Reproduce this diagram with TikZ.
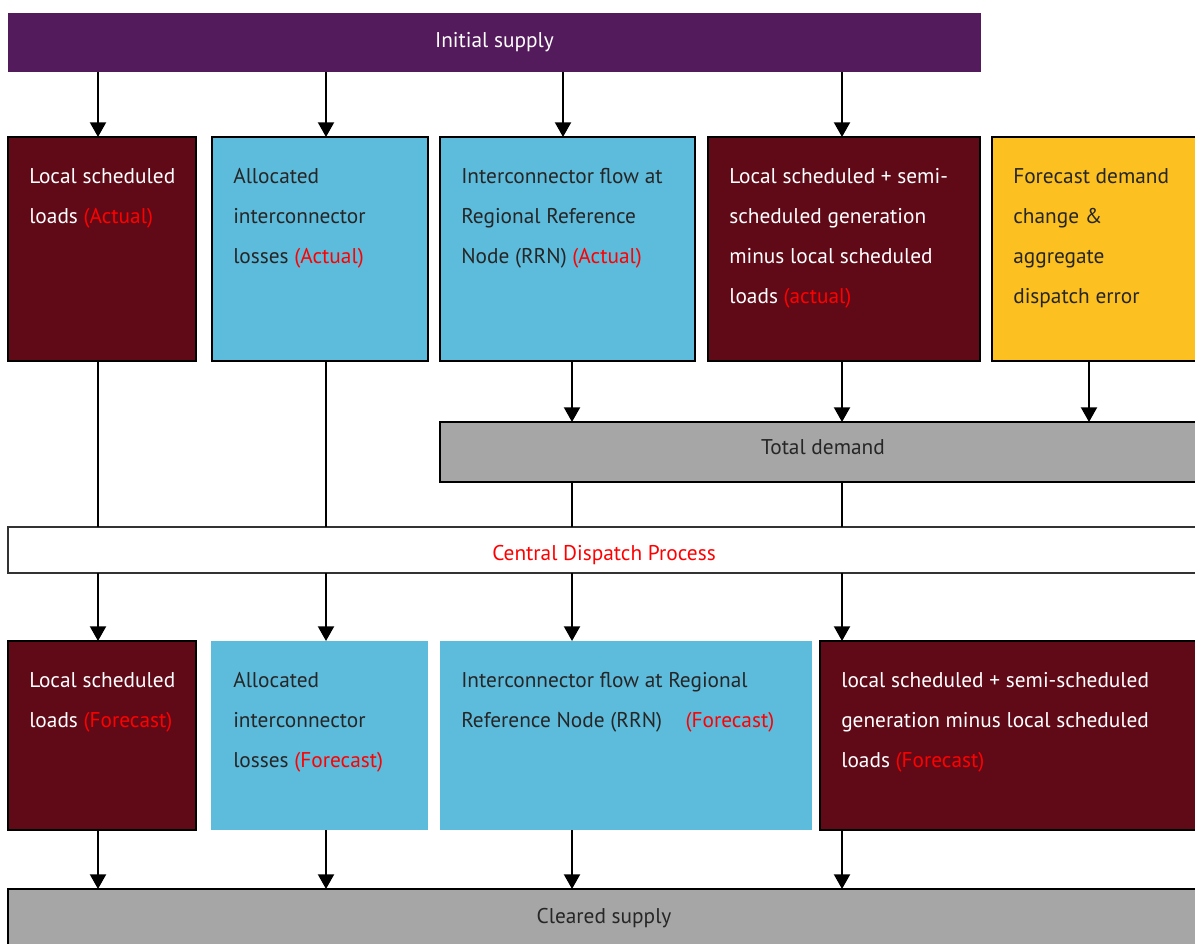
\documentclass[tikz,border=0pt]{standalone}
\usepackage{fontspec}
\setmainfont{PT Sans}
\usetikzlibrary{arrows.meta,positioning}
\definecolor{spurple}{RGB}{84,27,92}
\definecolor{sred}{RGB}{96,10,24}
\definecolor{sblue}{RGB}{93,187,220}
\definecolor{syellow}{RGB}{253,192,33}
\definecolor{sgray}{RGB}{166,166,166}
\definecolor{sdark}{RGB}{38,38,38}
\newcommand{\tagred}[1]{\textcolor{red}{#1}}

\begin{document}
\begin{tikzpicture}[
    x=0.75pt, y=-0.75pt,
    every node/.style={font=\fontsize{16}{30}\selectfont},
    box/.style 2 args={anchor=north west, inner sep=0pt, outer sep=0pt, line width=1.5pt,
                minimum width=#1*0.75pt, minimum height=#2*0.75pt},
    redbox/.style={draw=black, fill=sred},
    bluebox/.style={fill=sblue},
    txt/.style={anchor=north west, inner sep=0pt, align=left},
    arr/.style={-{Triangle[width=12pt, length=11pt]}, line width=1.5pt},
    ln/.style={line width=1.5pt}
]
\useasboundingbox (0,0) rectangle (1195,944);
\clip (0,0) rectangle (1195,944);

% columns of the connectors
\coordinate (c1) at (98,0);
\coordinate (c2) at (326,0);
\coordinate (c3) at (572,0);
\coordinate (c3t) at (563,0);
\coordinate (c4) at (842,0);
\coordinate (c5) at (1089,0);

\node[box={973}{59}, fill=spurple, text=white] (supply) at (8,13) {Initial supply};

% actual values
\node[box={188}{224}, redbox] (ld1) at (8,137) {};
\node[box={216}{224}, draw=black, bluebox] (ic1) at (212,137) {};
\node[box={255}{224}, draw=black, bluebox] (rrn1) at (440,137) {};
\node[box={272}{224}, redbox] (gen1) at (708,137) {};
\node[box={220}{224}, draw=black, fill=syellow] (fc) at (992,137) {};
\node[txt, text=white] (tld1) at (29,168) {Local scheduled\\loads \tagred{(Actual)}};
\node[txt, text=sdark] (tic1) at (233,168) {Allocated\\interconnector\\losses \tagred{(Actual)}};
\node[txt, text=sdark] (trrn1) at (461,168) {Interconnector flow at\\Regional Reference\\Node (RRN) \tagred{(Actual)}};
\node[txt, text=white] (tgen1) at (729,168) {Local scheduled + semi-\\scheduled generation\\minus local scheduled\\loads \tagred{(actual)}};
\node[txt, text=sdark] (tfc) at (1013,168) {Forecast demand\\change \&\\aggregate\\dispatch error};

\node[box={766}{60}, draw=black, fill=sgray, text=sdark,
      text height=11.5pt, text depth=7pt] (demand) at (440,422) {Total demand};
\node[box={1192}{46}, draw=black!80, line width=1pt, fill=white, text=red,
      text height=19pt, text depth=4pt] (cdp) at (8,527) {Central Dispatch Process};

% forecast values
\node[box={188}{189}, redbox] (ld2) at (8,641) {};
\node[box={217}{189}, bluebox] (ic2) at (211,641) {};
\node[box={372}{189}, bluebox] (rrn2) at (440,641) {};
\node[box={390}{189}, redbox] (gen2) at (820,641) {};
\node[txt, text=white] (tld2) at (29,672) {Local scheduled\\loads \tagred{(Forecast)}};
\node[txt, text=sdark] (tic2) at (233,672) {Allocated\\interconnector\\losses \tagred{(Forecast)}};
\node[txt, text=sdark] (trrn2) at (461,672) {Interconnector flow at Regional\\Reference Node (RRN)\hspace{1.1em}\tagred{(Forecast)}};
\node[txt, text=white] (tgen2) at (841,672) {local scheduled + semi-scheduled\\generation minus local scheduled\\loads \tagred{(Forecast)}};

\node[box={1192}{59}, draw=black, fill=sgray, text=sdark] (cleared) at (8,889) {Cleared supply};

\draw[arr] (supply.south -| c1) -- (ld1.north -| c1);
\draw[arr] (supply.south -| c2) -- (ic1.north -| c2);
\draw[arr] (supply.south -| c3t) -- (rrn1.north -| c3t);
\draw[arr] (supply.south -| c4) -- (gen1.north -| c4);

\draw[ln] (ld1.south -| c1) -- (cdp.north -| c1);
\draw[ln] (ic1.south -| c2) -- (cdp.north -| c2);
\draw[arr] (rrn1.south -| c3) -- (demand.north -| c3);
\draw[arr] (gen1.south -| c4) -- (demand.north -| c4);
\draw[arr] (fc.south -| c5) -- (demand.north -| c5);
\draw[ln] (demand.south -| c3) -- (cdp.north -| c3);
\draw[ln] (demand.south -| c4) -- (cdp.north -| c4);

\draw[arr] (cdp.south -| c1) -- (ld2.north -| c1);
\draw[arr] (cdp.south -| c2) -- (ic2.north -| c2);
\draw[arr] (cdp.south -| c3) -- (rrn2.north -| c3);
\draw[arr] (cdp.south -| c4) -- (gen2.north -| c4);

\draw[arr] (ld2.south -| c1) -- (cleared.north -| c1);
\draw[arr] (ic2.south -| c2) -- (cleared.north -| c2);
\draw[arr] (rrn2.south -| c3) -- (cleared.north -| c3);
\draw[arr] (gen2.south -| c4) -- (cleared.north -| c4);
\end{tikzpicture}
\end{document}
